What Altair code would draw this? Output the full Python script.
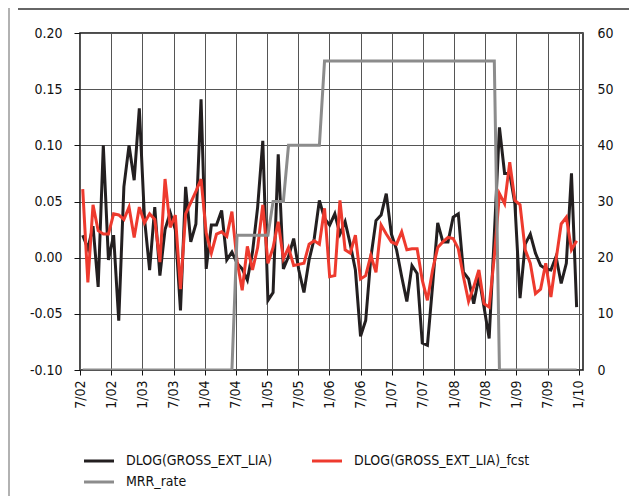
import altair as alt
import pandas as pd

# ---------------- data ----------------
tick_labels = ["7/02", "1/02", "1/03", "7/03", "1/04", "7/04", "1/05", "7/05", "1/06",
               "7/06", "1/07", "7/07", "1/08", "7/08", "1/09", "7/09", "1/10"]

series_names = ["DLOG(GROSS_EXT_LIA)", "DLOG(GROSS_EXT_LIA)_fcst", "MRR_rate"]
series_colors = ["#231f20", "#ee3a2e", "#8c8c8c"]

actual = [0.020, 0.008, 0.028, -0.026, 0.100, -0.002, 0.020, -0.056, 0.063, 0.100,
          0.069, 0.133, 0.035, -0.011, 0.045, -0.016, 0.025, 0.040, 0.025, -0.047,
          0.063, 0.014, 0.030, 0.141, -0.010, 0.029, 0.029, 0.042, -0.002, 0.005,
          -0.005, -0.010, -0.020, 0.005, 0.045, 0.104, -0.038, -0.031, 0.092, -0.010,
          0.001, 0.017, -0.011, -0.031, -0.002, 0.017, 0.051, 0.035, 0.029, 0.039,
          0.021, 0.032, 0.012, -0.011, -0.070, -0.056, 0.000, 0.033, 0.038, 0.057,
          0.021, 0.007, -0.017, -0.039, -0.007, -0.014, -0.076, -0.078, -0.025, 0.031,
          0.014, 0.014, 0.036, 0.039, -0.013, -0.019, -0.041, -0.017, -0.044, -0.072,
          0.020, 0.116, 0.075, 0.075, 0.048, -0.036, 0.012, 0.021, 0.004, -0.007,
          -0.010, -0.011, 0.001, -0.023, -0.005, 0.075, -0.044]

fcst = [0.061, -0.022, 0.047, 0.024, 0.021, 0.021, 0.039, 0.038, 0.034, 0.045,
        0.018, 0.045, 0.031, 0.039, 0.034, -0.004, 0.070, 0.027, 0.038, -0.028,
        0.039, 0.049, 0.059, 0.070, 0.022, 0.004, 0.021, 0.023, 0.019, 0.041,
        -0.003, -0.029, 0.010, -0.011, 0.009, 0.047, -0.005, 0.009, 0.032, -0.001,
        0.009, -0.007, -0.006, -0.005, 0.012, 0.015, 0.012, 0.044, -0.017, -0.016,
        0.051, 0.007, 0.004, 0.020, -0.019, -0.016, 0.002, -0.013, 0.029, 0.021,
        0.014, 0.012, 0.023, 0.007, 0.008, 0.008, -0.020, -0.038, -0.011, 0.009,
        0.014, 0.018, 0.017, 0.008, -0.017, -0.039, -0.026, -0.011, -0.041, -0.044,
        0.001, 0.057, 0.048, 0.085, 0.051, 0.047, 0.007, -0.005, -0.032, -0.028,
        -0.005, -0.035, -0.002, 0.030, 0.036, 0.007, 0.015]

mrr = [0, 0, 0, 0, 0, 0, 0, 0, 0, 0,
       0, 0, 0, 0, 0, 0, 0, 0, 0, 0,
       0, 0, 0, 0, 0, 0, 0, 0, 0, 0,
       24, 24, 24, 24, 24, 24, 24, 30, 30, 30,
       40, 40, 40, 40, 40, 40, 40, 55, 55, 55,
       55, 55, 55, 55, 55, 55, 55, 55, 55, 55,
       55, 55, 55, 55, 55, 55, 55, 55, 55, 55,
       55, 55, 55, 55, 55, 55, 55, 55, 55, 55,
       55, 0, 0, 0, 0, 0, 0, 0, 0, 0,
       0, 0, 0, 0, 0, 0, 0]

left_ticks = [-0.10, -0.05, 0.00, 0.05, 0.10, 0.15, 0.20]
right_ticks = [0, 10, 20, 30, 40, 50, 60]

# ---------------- table ----------------
n = len(actual)
df = pd.DataFrame({
    "t": list(range(n)) * 3,
    "value": actual + fcst + mrr,
    "series": [series_names[0]] * n + [series_names[1]] * n + [series_names[2]] * n,
})

FONT = "DejaVu Sans Condensed, sans-serif"
FS = 14
GRID = "#555555"

T0 = -0.524
STEP = 6.058
tick_vals = [round(T0 + STEP * k, 3) for k in range(len(tick_labels))]
label_arr = "[" + ",".join("'" + s + "'" for s in tick_labels) + "]"

x_axis = alt.Axis(
    values=tick_vals,
    labelExpr=f"{label_arr}[round((datum.value - ({T0})) / {STEP})]",
    labelAngle=-90, labelOverlap=False, labelFlush=False, labelBound=False,
    grid=True, gridColor=GRID, gridWidth=1,
    tickSize=5, tickColor="#111", labelPadding=5, domain=False, title=None,
    labelFontSize=FS, labelFont=FONT, labelColor="#111",
)
x_scale = alt.Scale(domain=[-0.53, 97.24], nice=False, zero=False)

color_enc = alt.Color(
    "series:N",
    scale=alt.Scale(domain=series_names, range=series_colors),
    legend=alt.Legend(
        orient="none", legendX=12, legendY=421, columns=2, direction="horizontal",
        title=None, symbolType="M-3,0H3", symbolSize=100, symbolStrokeWidth=3,
        labelFontSize=FS, labelFont=FONT, labelColor="#111", labelOffset=20,
        columnPadding=33, rowPadding=7, labelLimit=400,
    ),
)

left = alt.Chart(df).transform_filter(
    alt.FieldOneOfPredicate(field="series", oneOf=series_names[:2])
).mark_line(strokeWidth=3, clip=True).encode(
    x=alt.X("t:Q", scale=x_scale, axis=x_axis),
    y=alt.Y(
        "value:Q",
        scale=alt.Scale(domain=[-0.1, 0.2], nice=False, zero=False),
        axis=alt.Axis(
            orient="left", values=left_ticks,
            labelExpr="replace(format(datum.value, '.2f'), '\u2212', '-')",
            grid=True, gridColor=GRID, gridWidth=1, domain=False,
            tickSize=6, tickColor="#111", labelPadding=12, title=None,
            labelFontSize=FS, labelFont=FONT, labelColor="#111",
        ),
    ),
    color=color_enc,
)

right = alt.Chart(df).transform_filter(
    alt.FieldEqualPredicate(field="series", equal=series_names[2])
).mark_line(strokeWidth=3, clip=True).encode(
    x=alt.X("t:Q", scale=x_scale, axis=x_axis),
    y=alt.Y(
        "value:Q",
        scale=alt.Scale(domain=[0, 60], nice=False, zero=False),
        axis=alt.Axis(
            orient="right", values=right_ticks, grid=False, domain=False,
            ticks=False, labelPadding=14, title=None,
            labelFontSize=FS, labelFont=FONT, labelColor="#111",
        ),
    ),
    color=color_enc,
)

deco_df = pd.DataFrame({"k": [0]})
top_rule = alt.Chart(deco_df).mark_rule(color="#333333", strokeWidth=1.5).encode(
    x=alt.value(-62), x2=alt.value(560), y=alt.value(-24)
)
left_rule = alt.Chart(deco_df).mark_rule(color="#999999", strokeWidth=1.5).encode(
    x=alt.value(-71), y=alt.value(-40), y2=alt.value(480)
)

chart = alt.layer(left, right, top_rule, left_rule).resolve_scale(
    y="independent"
).properties(
    width=503, height=337,
    autosize=alt.AutoSizeParams(type="none"),
    padding={"left": 72, "top": 25, "right": 46, "bottom": 126},
    background="white",
).configure_view(
    stroke="#111111", strokeWidth=1.5
).configure_axisX(
    labelOverlap=False
)

chart.save("out.html", embed_options={"renderer": "svg", "actions": False})
